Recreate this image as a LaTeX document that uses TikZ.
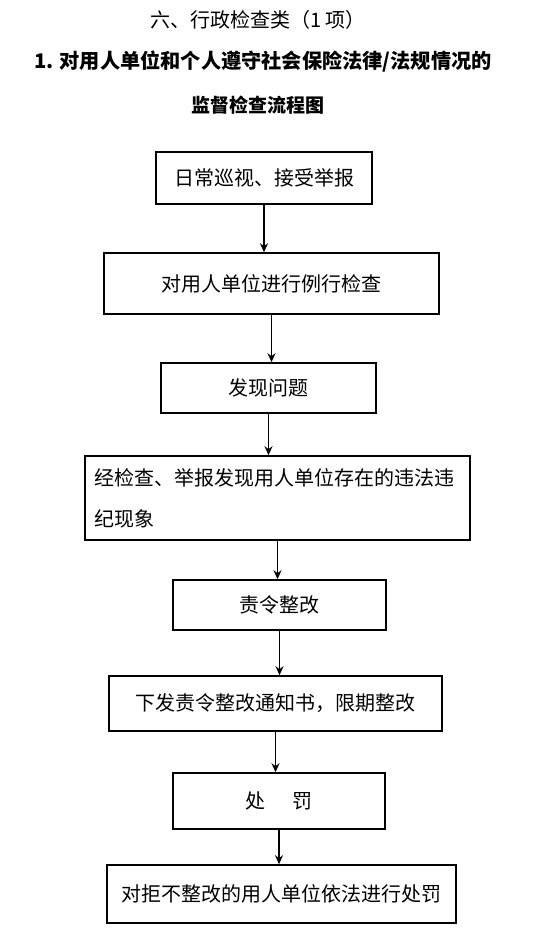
\documentclass[tikz,border=0pt]{standalone}
\usepackage{fontspec}
\setmainfont{Noto Sans CJK SC}
\usepackage{tikz}
\usetikzlibrary{arrows.meta,positioning,calc}
\tikzset{
  stepbox/.style={draw, line width=1.6pt, inner sep=0pt, align=center,
    font=\fontsize{20}{24}\selectfont},
  flowarr/.style={-{Stealth[length=9pt,width=8pt]}, line width=1.6pt},
  headln/.style={font=\fontsize{20}{24}\selectfont},
}

\begin{document}
\begin{tikzpicture}[x=1pt, y=-1pt]
        \useasboundingbox (0,0) rectangle (553,932);
        % title lines
        \node[headln] (h1) at (258,20) {六、行政检查类（1 项）};
        \node[headln, font=\fontsize{20.2}{24}\selectfont\bfseries] (h2) at (263,62)
          {1. 对用人单位和个人遵守社会保险法律/法规情况的};
        \node[headln, font=\fontsize{19}{24}\selectfont\bfseries] (h3) at (258,105)
          {监督检查流程图};
        % the steps, top to bottom
        \node[stepbox, minimum width=216pt, minimum height=52pt] (b1) at (264,178)
          {日常巡视、接受举报};
        \node[stepbox, minimum width=335pt, minimum height=61pt] (b2) at (271.5,283.5)
          {对用人单位进行例行检查};
        \node[stepbox, minimum width=215pt, minimum height=50pt] (b3) at (268.5,388)
          {发现问题};
        \node[stepbox, minimum width=385pt, minimum height=84pt, text width=366pt,
          align=left, font=\fontsize{20}{41}\selectfont] (b4) at (277.5,498)
          {经检查、举报发现用人单位存在的违法违\\纪现象};
        \node[stepbox, minimum width=213pt, minimum height=50pt] (b5) at (279.5,605)
          {责令整改};
        \node[stepbox, minimum width=333pt, minimum height=55pt] (b6) at (275.5,703.5)
          {下发责令整改通知书，限期整改};
        \node[stepbox, minimum width=212pt, minimum height=56pt] (b7) at (279,801)
          {处\hspace{27pt}罚};
        \node[stepbox, minimum width=349pt, minimum height=58pt] (b8) at (281.5,894)
          {对拒不整改的用人单位依法进行处罚};
        % connectors
        \foreach \a/\b in {b1/b2, b2/b3, b3/b4, b4/b5, b5/b6, b6/b7, b7/b8}
          \draw[flowarr] (\a.south) -- (\a.south |- \b.north);
      \end{tikzpicture}
\end{document}
